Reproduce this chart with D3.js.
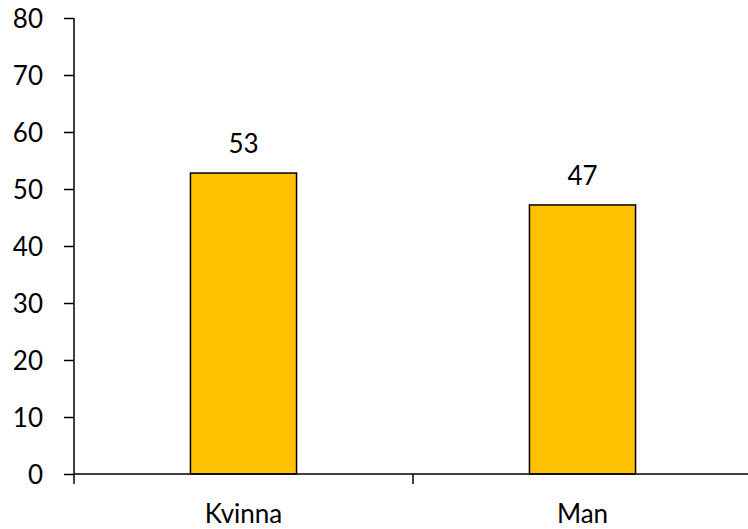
<!DOCTYPE html>
<html><head><meta charset="utf-8">
<script src="https://cdn.jsdelivr.net/npm/d3@7"></script>
<style>body{margin:0;background:#fff}svg{display:block}text{font-family:Lato,"Open Sans",sans-serif;fill:#000}</style>
</head><body>
<svg id="c" width="748" height="529"></svg>
<script>
const categories = ["Kvinna", "Man"];
const values = [52.8, 47.2];
const valueLabels = ["53", "47"];
const yTicks = [0, 10, 20, 30, 40, 50, 60, 70, 80];

const svg = d3.select("#c");
const x = d3.scaleBand().domain(categories).range([74, 752]).paddingInner(0).paddingOuter(0);
const y = d3.scaleLinear().domain([0, 80]).range([474, 18]);
const barW = x.bandwidth() * 0.313;
const fs = 26;

// bars
svg.selectAll("rect.bar").data(categories).enter().append("rect")
  .attr("class", "bar")
  .attr("x", d => x(d) + x.bandwidth() / 2 - barW / 2)
  .attr("y", (d, i) => y(values[i]))
  .attr("width", barW)
  .attr("height", (d, i) => y(0) - y(values[i]))
  .attr("fill", "#FFC000").attr("stroke", "#000").attr("stroke-width", 1.5);

// value labels
svg.selectAll("text.val").data(categories).enter().append("text")
  .attr("class", "val")
  .attr("x", d => x(d) + x.bandwidth() / 2)
  .attr("y", (d, i) => y(values[i]) - 20)
  .attr("text-anchor", "middle").attr("font-size", fs)
  .text((d, i) => valueLabels[i]);

// y axis
const yAxis = d3.axisLeft(y).tickValues(yTicks).tickSize(10).tickPadding(21).tickSizeOuter(0);
const gy = svg.append("g").attr("transform", "translate(74,0)").call(yAxis);
gy.select(".domain").attr("stroke", "#000").attr("stroke-width", 1.5).attr("d", `M0,${y(80)}V484`);
gy.selectAll(".tick line").attr("stroke", "#000").attr("stroke-width", 1.5);
gy.selectAll(".tick text").attr("font-size", fs).attr("font-family", "Lato,'Open Sans',sans-serif").attr("fill", "#000").attr("dy", "0.35em");

// x axis line
svg.append("line").attr("x1", 74).attr("x2", 752).attr("y1", y(0)).attr("y2", y(0))
  .attr("stroke", "#000").attr("stroke-width", 1.5);
// x boundary ticks
const bounds = categories.map(d => x(d)).slice(1);
svg.selectAll("line.xt").data(bounds).enter().append("line")
  .attr("x1", d => d).attr("x2", d => d).attr("y1", y(0)).attr("y2", y(0) + 10)
  .attr("stroke", "#000").attr("stroke-width", 1.5);
// category labels
svg.selectAll("text.cat").data(categories).enter().append("text")
  .attr("x", d => x(d) + x.bandwidth() / 2).attr("y", 523)
  .attr("text-anchor", "middle").attr("font-size", fs).text(d => d);
</script>
</body></html>
